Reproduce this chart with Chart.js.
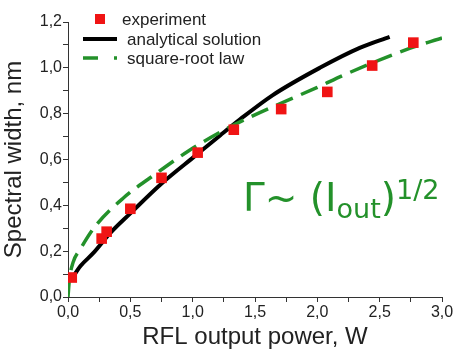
<!DOCTYPE html>
<html>
<head>
<meta charset="utf-8">
<script src="https://cdn.jsdelivr.net/npm/chart.js@4/dist/chart.umd.min.js"></script>
<style>
  html, body { margin: 0; padding: 0; background: #fff; }
</style>
</head>
<body>
<canvas id="chart" width="455" height="352"></canvas>
<script>
// Experiment points (RFL output power in W, spectral width in nm)
var expPower = [0.03, 0.27, 0.31, 0.50, 0.75, 1.04, 1.33, 1.71, 2.08, 2.44, 2.77];
var expWidth = [0.085, 0.255, 0.285, 0.385, 0.52, 0.63, 0.73, 0.82, 0.895, 1.01, 1.11];

// Analytical solution curve
var analyticPower = [0.02, 0.1, 0.2, 0.34, 0.5, 0.74, 1.03, 1.22, 1.38, 1.64, 2.02, 2.34, 2.58];
var analyticWidth = [0.07, 0.135, 0.19, 0.28, 0.365, 0.49, 0.62, 0.705, 0.775, 0.88, 1.0, 1.087, 1.135];

// Square-root law curve
var sqrtPower = [0.0, 0.01, 0.04, 0.1, 0.22, 0.44, 0.71, 0.96, 1.24, 1.46, 2.0, 2.24, 2.74, 3.0];
var sqrtWidth = [0.0, 0.07, 0.15, 0.21, 0.31, 0.43, 0.54, 0.635, 0.725, 0.785, 0.915, 0.975, 1.085, 1.13];

var seriesLabels = ['experiment', 'analytical solution', 'square-root law'];

var xTitle = 'RFL output power, W';
var yTitle = 'Spectral width, nm';

var RED = '#f01414';
var GREEN = '#23912a';
var TEXT = '#222';

var toPoints = function (xs, ys) {
  return xs.map(function (x, i) { return { x: x, y: ys[i] }; });
};

var commaLabel = function (step) {
  return function (value) {
    var r = Math.round(value / step);
    if (Math.abs(value / step - r) > 1e-6) return '';
    return value.toFixed(1).replace('.', ',');
  };
};

// legend drawn inside the plot, top left
var legendPlugin = {
  id: 'innerLegend',
  afterDraw: function (chart) {
    var ctx = chart.ctx;
    ctx.save();
    ctx.font = '17px "Liberation Sans", Arial, sans-serif';
    ctx.fillStyle = TEXT;
    ctx.textBaseline = 'middle';

    ctx.fillStyle = RED;
    ctx.fillRect(95, 14, 10, 10);
    ctx.fillStyle = TEXT;
    ctx.fillText(seriesLabels[0], 122, 20);

    ctx.strokeStyle = '#000';
    ctx.lineWidth = 4;
    ctx.beginPath();
    ctx.moveTo(83, 39);
    ctx.lineTo(117, 39);
    ctx.stroke();
    ctx.fillText(seriesLabels[1], 127, 40);

    ctx.strokeStyle = GREEN;
    ctx.lineWidth = 3.5;
    ctx.setLineDash([15, 16]);
    ctx.beginPath();
    ctx.moveTo(83, 58);
    ctx.lineTo(117, 58);
    ctx.stroke();
    ctx.setLineDash([]);
    ctx.fillText(seriesLabels[2], 127, 59);
    ctx.restore();
  }
};

// Gamma ~ (I_out)^1/2 annotation
var formulaPlugin = {
  id: 'formula',
  afterDraw: function (chart) {
    var ctx = chart.ctx;
    ctx.save();
    ctx.fillStyle = GREEN;
    ctx.textBaseline = 'alphabetic';
    var big = '39px "DejaVu Sans", sans-serif';
    var small = '27px "DejaVu Sans", sans-serif';
    var x = 243;
    var base = 211;
    var parts = [
      { t: '\u0393~ (I', f: big, dy: 0 },
      { t: 'out', f: small, dy: 7 },
      { t: ')', f: big, dy: 0 },
      { t: '1/2', f: small, dy: -12 }
    ];
    parts.forEach(function (p) {
      ctx.font = p.f;
      ctx.fillText(p.t, x, base + p.dy);
      x += ctx.measureText(p.t).width;
    });
    ctx.restore();
  }
};

var ctx = document.getElementById('chart').getContext('2d');
new Chart(ctx, {
  type: 'scatter',
  data: {
    datasets: [
      {
        label: seriesLabels[0],
        data: toPoints(expPower, expWidth),
        pointStyle: 'rect',
        pointRadius: 7.5,
        backgroundColor: RED,
        borderColor: RED,
        borderWidth: 0,
        order: 0
      },
      {
        label: seriesLabels[1],
        type: 'line',
        data: toPoints(analyticPower, analyticWidth),
        borderColor: '#000',
        borderWidth: 4,
        pointRadius: 0,
        cubicInterpolationMode: 'monotone',
        fill: false,
        order: 2
      },
      {
        label: seriesLabels[2],
        type: 'line',
        data: toPoints(sqrtPower, sqrtWidth),
        borderColor: GREEN,
        borderWidth: 3.5,
        borderDash: [18, 9],
        pointRadius: 0,
        cubicInterpolationMode: 'monotone',
        fill: false,
        order: 1
      }
    ]
  },
  options: {
    responsive: false,
    animation: false,
    layout: { padding: { top: 22, right: 13, left: 0, bottom: 0 } },
    plugins: { legend: { display: false }, tooltip: { enabled: false } },
    scales: {
      x: {
        type: 'linear',
        min: 0,
        max: 3,
        afterFit: function (scale) { scale.height = 55; },
        border: { display: true, color: '#333', width: 1 },
        grid: { drawOnChartArea: false, drawTicks: true, tickLength: 5, color: '#333' },
        ticks: {
          stepSize: 0.25,
          autoSkip: false,
          maxRotation: 0,
          padding: 1,
          color: TEXT,
          font: { family: '"Liberation Sans", Arial, sans-serif', size: 16 },
          callback: commaLabel(0.5)
        },
        title: {
          display: true,
          text: xTitle,
          color: TEXT,
          padding: { top: 0, bottom: 0 },
          font: { family: '"Liberation Sans", Arial, sans-serif', size: 24 }
        }
      },
      y: {
        type: 'linear',
        min: 0,
        max: 1.2,
        afterFit: function (scale) { scale.width = 68; },
        border: { display: true, color: '#333', width: 1 },
        grid: { drawOnChartArea: false, drawTicks: true, tickLength: 5, color: '#333' },
        ticks: {
          stepSize: 0.1,
          autoSkip: false,
          padding: 1,
          color: TEXT,
          font: { family: '"Liberation Sans", Arial, sans-serif', size: 16 },
          callback: commaLabel(0.2)
        },
        title: {
          display: true,
          text: yTitle,
          color: TEXT,
          padding: { top: 0, bottom: 0 },
          font: { family: '"Liberation Sans", Arial, sans-serif', size: 24 }
        }
      }
    }
  },
  plugins: [legendPlugin, formulaPlugin]
});
</script>
</body>
</html>
